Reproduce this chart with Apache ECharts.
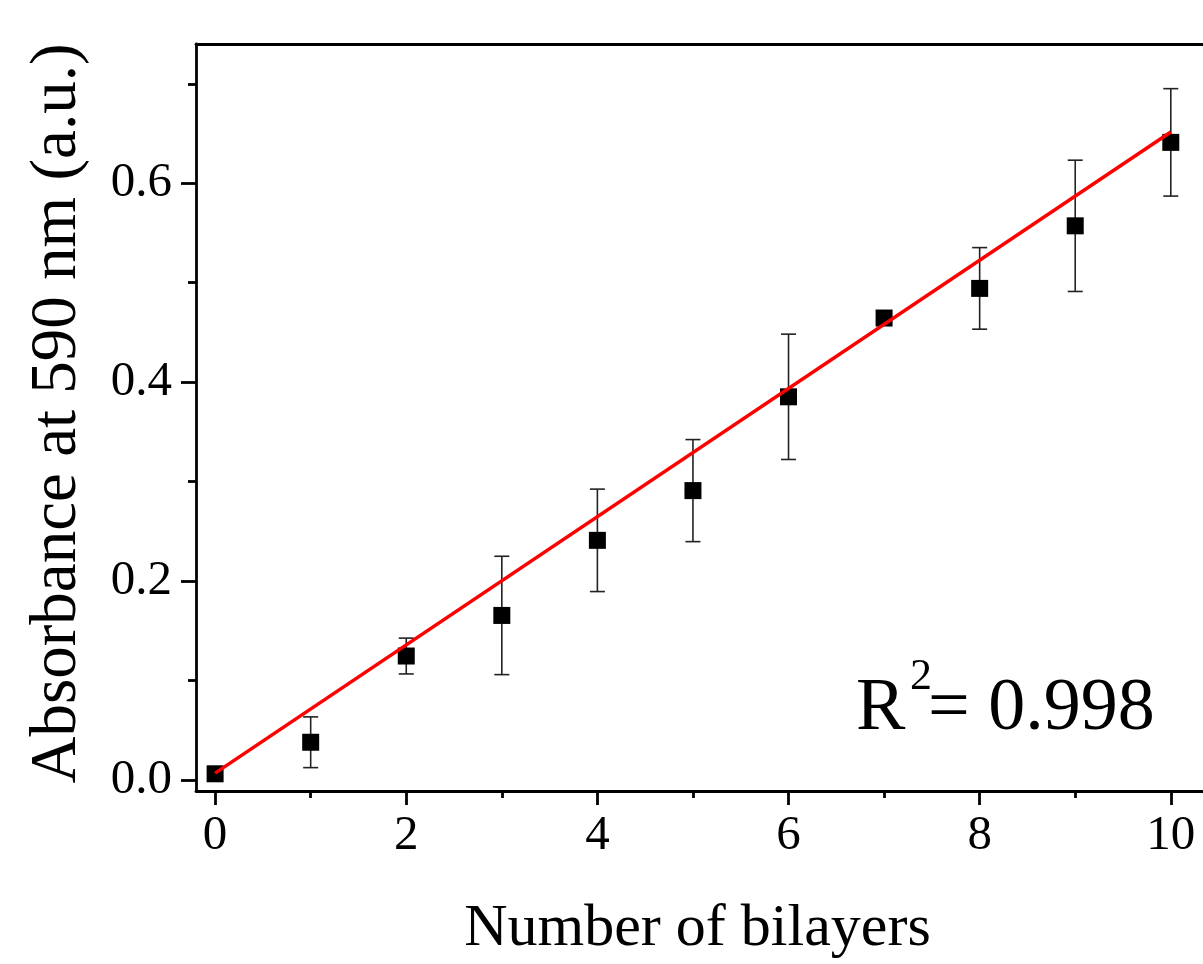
<!DOCTYPE html>
<html>
<head>
<meta charset="utf-8">
<script src="https://cdn.jsdelivr.net/npm/echarts@6/dist/echarts.min.js"></script>
<style>
  html, body { margin: 0; padding: 0; background: #fff; }
  #chart { width: 1203px; height: 964px; }
</style>
</head>
<body>
<div id="chart"></div>
<script>
// ---- data ----
const bilayers   = [0, 1, 2, 3, 4, 5, 6, 7, 8, 9, 10];
const absorbance = [0.0063, 0.038, 0.1247, 0.1655, 0.241, 0.291, 0.3853, 0.4645, 0.4943, 0.5572, 0.6411];
const errorBar   = [0.003, 0.0255, 0.018, 0.0595, 0.0515, 0.0513, 0.063, 0.007, 0.041, 0.066, 0.054];
const fitX = [0, 10];
const fitY = [0.007, 0.6515];
const xMajorTicks = [0, 2, 4, 6, 8, 10];
const xMinorTicks = [1, 3, 5, 7, 9];
const yMajorTicks = [0.0, 0.2, 0.4, 0.6];
const yMinorTicks = [0.1, 0.3, 0.5, 0.7];
const xTitle = 'Number of bilayers';
const yTitle = 'Absorbance at 590 nm (a.u.)';
const r2Value = '= 0.998';

// ---- chart ----
const FONT = '"Liberation Serif", "Times New Roman", serif';
const X_MIN = -0.2, X_MAX = 10.337, Y_MIN = -0.011, Y_MAX = 0.74;

const chart = echarts.init(document.getElementById('chart'), null, { renderer: 'canvas' });

function errorItem(params, api) {
  const x = api.value(0), y = api.value(1), e = api.value(2);
  const top = api.coord([x, y + e]);
  const bot = api.coord([x, y - e]);
  const hw = 7.5;
  const st = { stroke: '#222', lineWidth: 1.6 };
  return {
    type: 'group',
    children: [
      { type: 'line', shape: { x1: top[0], y1: top[1], x2: bot[0], y2: bot[1] }, style: st },
      { type: 'line', shape: { x1: top[0] - hw, y1: top[1], x2: top[0] + hw, y2: top[1] }, style: st },
      { type: 'line', shape: { x1: bot[0] - hw, y1: bot[1], x2: bot[0] + hw, y2: bot[1] }, style: st }
    ]
  };
}

const axisLineStyle = { color: '#000', width: 2.8 };

const option = {
  backgroundColor: '#fff',
  animation: false,
  grid: {
    left: 196, top: 44, right: 0, bottom: 171,
    show: false
  },
  xAxis: [
    {
      type: 'value', min: X_MIN, max: X_MAX, position: 'bottom',
      axisLine: { show: true, onZero: false, lineStyle: axisLineStyle },
      axisTick: { show: true, inside: false, length: 14, lineStyle: axisLineStyle, customValues: xMajorTicks },
      axisLabel: {
        show: true, customValues: xMajorTicks, margin: 21,
        color: '#000', fontFamily: FONT, fontSize: 49,
        formatter: v => String(Math.round(v))
      },
      splitLine: { show: false },
      name: xTitle, nameLocation: 'middle', nameGap: 108,
      nameTextStyle: { color: '#000', fontFamily: FONT, fontSize: 60, padding: [0, 4, 0, 0] }
    },
    {
      type: 'value', min: X_MIN, max: X_MAX, position: 'bottom',
      axisLine: { show: false, onZero: false },
      axisTick: { show: true, inside: false, length: 7, lineStyle: axisLineStyle, customValues: xMinorTicks },
      axisLabel: { show: false },
      splitLine: { show: false }
    },
    {
      type: 'value', min: X_MIN, max: X_MAX, position: 'top',
      axisLine: { show: true, onZero: false, lineStyle: axisLineStyle },
      axisTick: { show: false },
      axisLabel: { show: false },
      splitLine: { show: false }
    }
  ],
  yAxis: [
    {
      type: 'value', min: Y_MIN, max: Y_MAX, position: 'left',
      axisLine: { show: true, onZero: false, lineStyle: axisLineStyle },
      axisTick: { show: true, inside: false, length: 15, lineStyle: axisLineStyle, customValues: yMajorTicks },
      axisLabel: {
        show: true, customValues: yMajorTicks, margin: 24,
        color: '#000', fontFamily: FONT, fontSize: 49,
        formatter: v => v.toFixed(1)
      },
      splitLine: { show: false },
      name: yTitle, nameLocation: 'middle', nameGap: 106, nameRotate: 90,
      nameTextStyle: { color: '#000', fontFamily: FONT, fontSize: 65, padding: [0, 0, 0, 8] }
    },
    {
      type: 'value', min: Y_MIN, max: Y_MAX, position: 'left',
      axisLine: { show: false, onZero: false },
      axisTick: { show: true, inside: false, length: 8, lineStyle: axisLineStyle, customValues: yMinorTicks },
      axisLabel: { show: false },
      splitLine: { show: false }
    }
  ],
  series: [
    {
      type: 'custom', name: 'error', xAxisIndex: 0, yAxisIndex: 0,
      renderItem: errorItem,
      data: bilayers.map((b, i) => [b, absorbance[i], errorBar[i]]),
      z: 2
    },
    {
      type: 'scatter', name: 'data', xAxisIndex: 0, yAxisIndex: 0,
      symbol: 'rect', symbolSize: 17,
      itemStyle: { color: '#000', opacity: 1 },
      data: bilayers.map((b, i) => [b, absorbance[i]]),
      z: 3
    },
    {
      type: 'line', name: 'fit', xAxisIndex: 0, yAxisIndex: 0,
      showSymbol: false, symbol: 'none',
      lineStyle: { color: '#ff0000', width: 3.5 },
      data: fitX.map((x, i) => [x, fitY[i]]),
      z: 4
    }
  ],
  graphic: [
    { type: 'text', left: 856, top: 673, z: 10,
      style: { text: 'R', font: '74px "Liberation Serif"', fill: '#000' } },
    { type: 'text', left: 910, top: 655, z: 10,
      style: { text: '2', font: '44px "Liberation Serif"', fill: '#000' } },
    { type: 'text', left: 928, top: 673, z: 10,
      style: { text: r2Value, font: '74px "Liberation Serif"', fill: '#000' } }
  ]
};

chart.setOption(option);
</script>
</body>
</html>
